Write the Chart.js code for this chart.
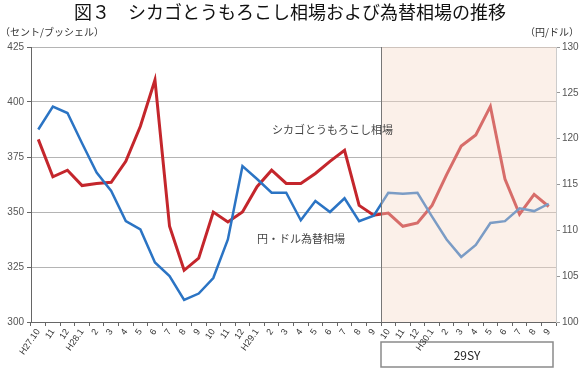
<!DOCTYPE html>
<html lang="ja">
<head>
<meta charset="UTF-8">
<title>図3 シカゴとうもろこし相場および為替相場の推移</title>
<script src="https://cdn.jsdelivr.net/npm/chart.js"></script>
<style>
  html, body { margin: 0; padding: 0; background: #fff; }
  #wrap { width: 580px; height: 370px; position: relative; }
</style>
</head>
<body>
<div id="wrap"><canvas id="chart" width="580" height="370"></canvas></div>
<script>
// month labels H27.10 - H30.9
const months = ['H27.10', '11', '12',
  'H28.1', '2', '3', '4', '5', '6', '7', '8', '9', '10', '11', '12',
  'H29.1', '2', '3', '4', '5', '6', '7', '8', '9', '10', '11', '12',
  'H30.1', '2', '3', '4', '5', '6', '7', '8', '9'];

// シカゴとうもろこし相場 (セント/ブッシェル)
const cornPrice = [383, 366, 369, 362, 363, 363.5, 373, 389, 410, 343.5, 323.5, 329,
  350, 345.5, 350, 361.5, 369, 363, 363, 367.5, 373, 378, 353, 348.5,
  349.5, 343.5, 345, 353, 367, 380, 385, 398, 365, 349, 358, 352.5];

// 円・ドル為替相場 (円/ドル)
const yenRate = [121, 123.5, 122.8, 119.5, 116.3, 114.3, 111, 110.1, 106.5, 105, 102.4, 103.1,
  104.8, 109, 117, 115.6, 114.1, 114.1, 111.1, 113.2, 112, 113.5, 111, 111.6,
  114.1, 114, 114.1, 111.5, 109, 107.1, 108.4, 110.8, 111, 112.4, 112.1, 112.9];

// 29SY starts at H29.10
const syStart = 24;

const jp = '"Noto Sans CJK JP", sans-serif';

const decor = {
  id: 'decor',
  beforeDraw(chart) {
    const ctx = chart.ctx;
    const area = chart.chartArea;
    const step = (area.right - area.left) / months.length;
    const left = area.left + step * syStart;
    // 29SY box
    ctx.save();
    ctx.fillStyle = '#fff';
    ctx.strokeStyle = '#8a8a8a';
    ctx.lineWidth = 1.5;
    ctx.fillRect(left, 342, area.right - left - 3, 25);
    ctx.strokeRect(left, 342, area.right - left - 3, 25);
    ctx.fillStyle = '#222';
    ctx.font = '12px ' + jp;
    ctx.textAlign = 'center';
    ctx.textBaseline = 'middle';
    ctx.fillText('29SY', (left + area.right - 3) / 2, 355);
    ctx.restore();
  },
  afterDatasetsDraw(chart) {
    const ctx = chart.ctx;
    const area = chart.chartArea;
    const step = (area.right - area.left) / months.length;
    const left = area.left + step * syStart;
    ctx.save();
    // shaded period
    ctx.fillStyle = 'rgba(245, 218, 200, 0.4)';
    ctx.fillRect(left, area.top, area.right - left, area.bottom - area.top);
    ctx.strokeStyle = '#777';
    ctx.lineWidth = 1;
    ctx.beginPath();
    ctx.moveTo(Math.round(left) + 0.5, area.top);
    ctx.lineTo(Math.round(left) + 0.5, area.bottom);
    ctx.stroke();
    ctx.restore();
  },
  afterDraw(chart) {
    const ctx = chart.ctx;
    ctx.save();
    ctx.fillStyle = '#111';
    ctx.font = '400 18px ' + jp;
    ctx.textAlign = 'center';
    ctx.textBaseline = 'middle';
    ctx.fillText('図３　シカゴとうもろこし相場および為替相場の推移', 290, 12);

    ctx.fillStyle = '#333';
    ctx.font = '10px ' + jp;
    ctx.textAlign = 'left';
    ctx.fillText('（セント/ブッシェル）', 0, 32);
    ctx.textAlign = 'right';
    ctx.fillText('（円/ドル）', 579, 32);

    ctx.fillStyle = '#444';
    ctx.font = '11px ' + jp;
    ctx.textAlign = 'left';
    ctx.fillText('シカゴとうもろこし相場', 272, 130);
    ctx.fillText('円・ドル為替相場', 257, 239);
    ctx.restore();
  }
};

new Chart(document.getElementById('chart'), {
  type: 'line',
  data: {
    labels: months,
    datasets: [
      {
        label: '円・ドル為替相場',
        data: yenRate,
        yAxisID: 'y1',
        borderColor: '#2b74c4',
        borderWidth: 2.5,
        pointRadius: 0,
        tension: 0
      },
      {
        label: 'シカゴとうもろこし相場',
        data: cornPrice,
        yAxisID: 'y',
        borderColor: '#c4262c',
        borderWidth: 3,
        pointRadius: 0,
        tension: 0
      }
    ]
  },
  options: {
    responsive: false,
    animation: false,
    layout: { padding: { top: 47, left: 0, right: 0, bottom: 0 } },
    plugins: {
      legend: { display: false },
      tooltip: { enabled: false }
    },
    scales: {
      x: {
        offset: true,
        grid: { offset: true, drawOnChartArea: false, drawTicks: true, tickLength: 4, color: '#666' },
        border: { color: '#666' },
        ticks: {
          autoSkip: false,
          minRotation: 55,
          maxRotation: 55,
          padding: 1,
          color: '#333',
          font: { size: 9, family: '"Liberation Sans", Arial, sans-serif' }
        },
        afterFit(scale) { scale.height = 48; }
      },
      y: {
        position: 'left',
        min: 300,
        max: 425,
        ticks: {
          stepSize: 25,
          padding: 3,
          color: '#555',
          font: { size: 10, family: '"Liberation Sans", Arial, sans-serif' }
        },
        grid: { color: '#b4b4b4', tickLength: 4, tickColor: '#666' },
        border: { color: '#666' },
        afterFit(scale) { scale.width = 31; }
      },
      y1: {
        position: 'right',
        min: 100,
        max: 130,
        ticks: {
          stepSize: 5,
          padding: 2,
          color: '#555',
          font: { size: 10, family: '"Liberation Sans", Arial, sans-serif' }
        },
        grid: { drawOnChartArea: false, tickLength: 4, color: '#999' },
        border: { color: '#ccc' },
        afterFit(scale) { scale.width = 24; }
      }
    }
  },
  plugins: [decor]
});
</script>
</body>
</html>
